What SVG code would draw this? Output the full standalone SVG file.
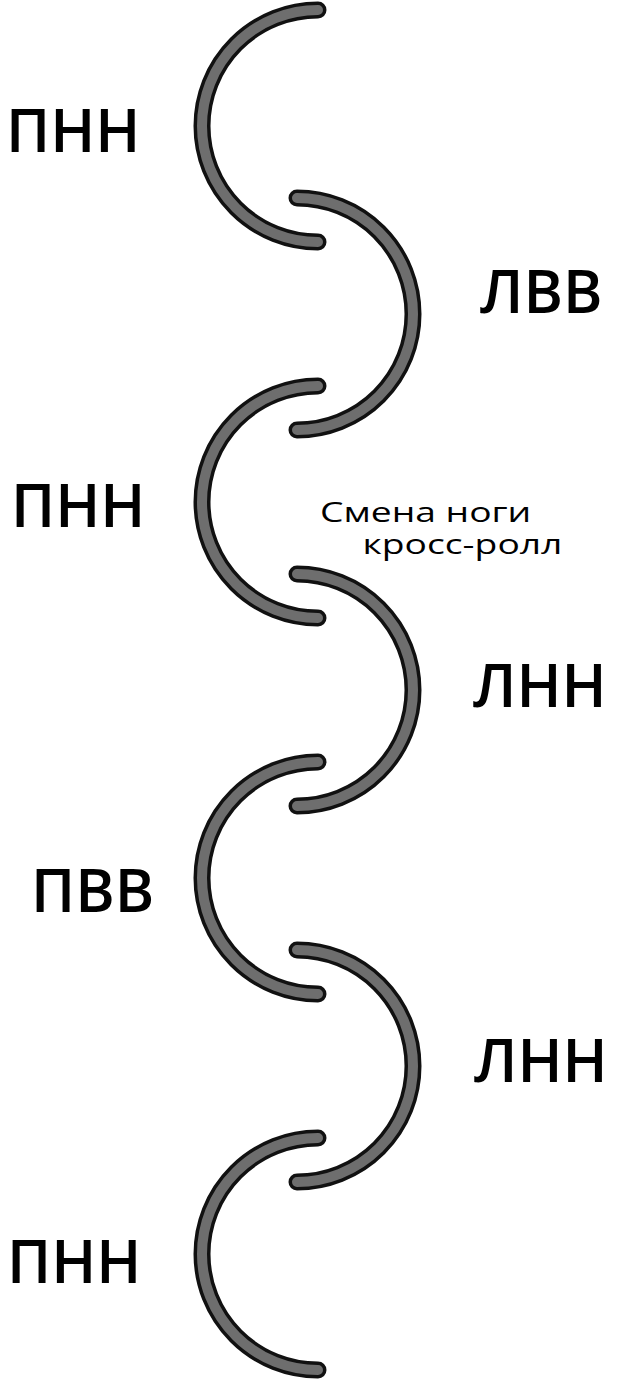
<svg xmlns="http://www.w3.org/2000/svg" xmlns:xlink="http://www.w3.org/1999/xlink" width="619" height="1397" viewBox="0 0 619 1397">
<style>
.edge{fill:none;stroke:#111;stroke-width:17;stroke-linecap:round}
.core{fill:none;stroke:#6e6e6e;stroke-width:10;stroke-linecap:round}
.lbl{font-family:"Open Sans","Liberation Sans",sans-serif;font-weight:600;font-size:60px;fill:#000}
.cap{font-family:"Open Sans","Liberation Sans",sans-serif;font-size:28px;fill:#000}
</style>
<defs>
<path id="L" d="M318,-116 A116,116 0 1 0 318,116"/>
<path id="R" d="M297,-116 A116,116 0 1 1 297,116"/>
</defs>
<g id="connectors">
<g id="arc1" transform="translate(0,126)"><use xlink:href="#L" class="edge"/><use xlink:href="#L" class="core"/></g>
<g id="arc2" transform="translate(0,314)"><use xlink:href="#R" class="edge"/><use xlink:href="#R" class="core"/></g>
<g id="arc3" transform="translate(0,502)"><use xlink:href="#L" class="edge"/><use xlink:href="#L" class="core"/></g>
<g id="arc4" transform="translate(0,690)"><use xlink:href="#R" class="edge"/><use xlink:href="#R" class="core"/></g>
<g id="arc5" transform="translate(0,878)"><use xlink:href="#L" class="edge"/><use xlink:href="#L" class="core"/></g>
<g id="arc6" transform="translate(0,1066)"><use xlink:href="#R" class="edge"/><use xlink:href="#R" class="core"/></g>
<g id="arc7" transform="translate(0,1254)"><use xlink:href="#L" class="edge"/><use xlink:href="#L" class="core"/></g>
</g>
<g id="n1"><text class="lbl" x="6" y="152">ПНН</text></g>
<g id="n2"><text class="lbl" x="480" y="313">ЛВВ</text></g>
<g id="n3"><text class="lbl" x="11" y="527">ПНН</text></g>
<g id="n4" transform="translate(320,0) scale(1.33,1)"><text class="cap"><tspan x="0" y="522">Смена ноги</tspan><tspan x="32" y="554">кросс-ролл</tspan></text></g>
<g id="n5"><text class="lbl" x="473" y="707">ЛНН</text></g>
<g id="n6"><text class="lbl" x="31" y="912">ПВВ</text></g>
<g id="n7"><text class="lbl" x="474" y="1082">ЛНН</text></g>
<g id="n8"><text class="lbl" x="7" y="1283">ПНН</text></g>
</svg>
